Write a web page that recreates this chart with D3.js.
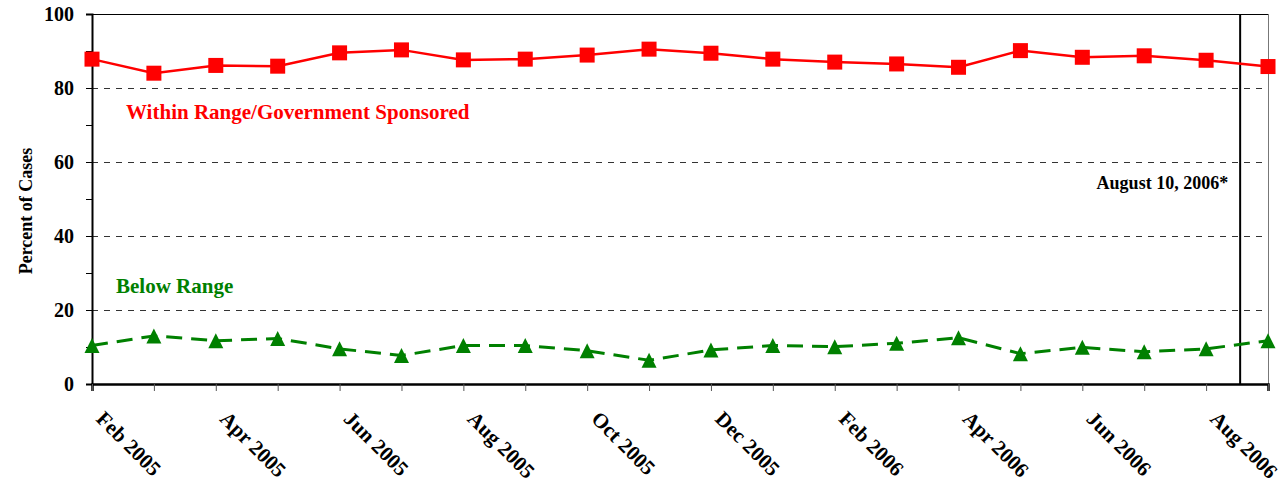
<!DOCTYPE html>
<html>
<head>
<meta charset="utf-8">
<script src="https://cdn.jsdelivr.net/npm/d3@7"></script>
<style>
  html, body { margin: 0; padding: 0; background: #fff; }
  svg { display: block; }
  text { font-family: "Liberation Serif", "Times New Roman", serif; font-weight: bold; }
</style>
</head>
<body>
<svg id="chart" width="1285" height="485"></svg>
<script>
// Monthly reporting periods, Feb 2005 through Sep 2006
const months = [
  "Feb 2005", "Mar 2005", "Apr 2005", "May 2005", "Jun 2005", "Jul 2005",
  "Aug 2005", "Sep 2005", "Oct 2005", "Nov 2005", "Dec 2005", "Jan 2006",
  "Feb 2006", "Mar 2006", "Apr 2006", "May 2006", "Jun 2006", "Jul 2006",
  "Aug 2006", "Sep 2006"
];
// Every other month carries a label
const tickLabels = [
  "Feb 2005", "Apr 2005", "Jun 2005", "Aug 2005", "Oct 2005", "Dec 2005",
  "Feb 2006", "Apr 2006", "Jun 2006", "Aug 2006"
];
// Percent of cases per month
const withinRange = [
  87.8, 84.0, 86.1, 85.9, 89.5, 90.3, 87.6, 87.8, 88.9, 90.5,
  89.4, 87.8, 87.0, 86.5, 85.6, 90.1, 88.3, 88.7, 87.5, 85.8
];
const belowRange = [
  10.4, 13.0, 11.7, 12.3, 9.5, 7.7, 10.4, 10.4, 9.0, 6.4,
  9.2, 10.4, 10.1, 11.0, 12.5, 8.2, 9.9, 8.7, 9.5, 11.7
];
const yTicks = [0, 20, 40, 60, 80, 100];
const yMinorTicks = [10, 30, 50, 70, 90];
const gridValues = [20, 40, 60, 80];
// Reference date marker, in month-index units along the axis
const eventMarker = { label: "August 10, 2006*", month: 18.55 };

const svg = d3.select("#chart");
const plotLeft = 92, plotRight = 1268, plotTop = 14, plotBottom = 384;

const x = d3.scaleLinear().domain([0, months.length - 1]).range([plotLeft, plotRight]);
const y = d3.scaleLinear().domain([0, 100]).range([plotBottom, plotTop]);

// Dashed horizontal gridlines
svg.append("g")
  .selectAll("line")
  .data(gridValues)
  .join("line")
  .attr("x1", plotLeft).attr("x2", plotRight)
  .attr("y1", d => Math.round(y(d)) + 0.5).attr("y2", d => Math.round(y(d)) + 0.5)
  .attr("stroke", "#333")
  .attr("stroke-width", 1)
  .attr("stroke-dasharray", "6,6");

// Plot frame: top and right edges
svg.append("line")
  .attr("x1", plotLeft).attr("x2", plotRight)
  .attr("y1", plotTop + 0.5).attr("y2", plotTop + 0.5)
  .attr("stroke", "#000").attr("stroke-width", 1);
svg.append("line")
  .attr("x1", plotRight + 0.5).attr("x2", plotRight + 0.5)
  .attr("y1", plotTop).attr("y2", plotBottom)
  .attr("stroke", "#777").attr("stroke-width", 1);

// Y axis
const yAxis = svg.append("g")
  .attr("transform", `translate(${plotLeft},0)`)
  .call(d3.axisLeft(y).tickValues(yTicks).tickSize(6).tickPadding(12).tickFormat(d3.format("d")));
yAxis.select(".domain").attr("stroke", "#000").attr("stroke-width", 2);
yAxis.selectAll(".tick line").attr("stroke", "#000").attr("stroke-width", 1);
yAxis.selectAll(".tick text")
  .attr("font-size", 20)
  .attr("font-family", "Liberation Serif, Times New Roman, serif")
  .attr("font-weight", "bold")
  .attr("fill", "#000");

const yMinor = svg.append("g")
  .attr("transform", `translate(${plotLeft},0)`)
  .call(d3.axisLeft(y).tickValues(yMinorTicks).tickSize(6).tickFormat(""));
yMinor.select(".domain").remove();
yMinor.selectAll(".tick line").attr("stroke", "#000");

// X axis: a tick for every month
const xAxis = svg.append("g")
  .attr("transform", `translate(0,${plotBottom})`)
  .call(d3.axisBottom(x).tickValues(d3.range(months.length)).tickSize(7).tickFormat(""));
xAxis.select(".domain").attr("stroke", "#000").attr("stroke-width", 2.5);
xAxis.selectAll(".tick line").attr("stroke", "#555").attr("stroke-width", 1);

// Rotated month labels
svg.append("g")
  .selectAll("text")
  .data(tickLabels)
  .join("text")
  .attr("transform", d => `translate(${x(months.indexOf(d)) + 3},${plotBottom + 36}) rotate(45)`)
  .attr("text-anchor", "start")
  .attr("font-size", 21)
  .attr("fill", "#000")
  .text(d => d);

// Y axis title
svg.append("text")
  .attr("transform", `translate(32,${(plotTop + plotBottom) / 2 + 12}) rotate(-90)`)
  .attr("text-anchor", "middle")
  .attr("font-size", 18)
  .attr("fill", "#000")
  .text("Percent of Cases");

// Event marker
svg.append("line")
  .attr("x1", x(eventMarker.month)).attr("x2", x(eventMarker.month))
  .attr("y1", plotTop).attr("y2", plotBottom)
  .attr("stroke", "#000").attr("stroke-width", 2);
svg.append("text")
  .attr("x", x(eventMarker.month) - 12)
  .attr("y", 189)
  .attr("text-anchor", "end")
  .attr("font-size", 18)
  .attr("fill", "#000")
  .text(eventMarker.label);

const line = d3.line().x((d, i) => x(i)).y(d => y(d));

// Below Range series (green, dashed, triangles)
svg.append("path")
  .datum(belowRange)
  .attr("d", line)
  .attr("fill", "none")
  .attr("stroke", "#008000")
  .attr("stroke-width", 3)
  .attr("stroke-dasharray", "16,9");
const triSize = 15;
svg.append("g")
  .selectAll("path")
  .data(belowRange)
  .join("path")
  .attr("transform", (d, i) => `translate(${x(i)},${y(d)})`)
  .attr("d", `M0,${-triSize / 2}L${triSize / 2},${triSize / 2}L${-triSize / 2},${triSize / 2}Z`)
  .attr("fill", "#008000");

// Within Range series (red, solid, squares)
svg.append("path")
  .datum(withinRange)
  .attr("d", line)
  .attr("fill", "none")
  .attr("stroke", "#ff0000")
  .attr("stroke-width", 2.5);
const sq = 15;
svg.append("g")
  .selectAll("rect")
  .data(withinRange)
  .join("rect")
  .attr("x", (d, i) => x(i) - sq / 2)
  .attr("y", d => y(d) - sq / 2)
  .attr("width", sq).attr("height", sq)
  .attr("fill", "#ff0000");

// Series labels
svg.append("text")
  .attr("x", 126).attr("y", 119)
  .attr("font-size", 21)
  .attr("fill", "#ff0000")
  .text("Within Range/Government Sponsored");
svg.append("text")
  .attr("x", 116).attr("y", 293)
  .attr("font-size", 21)
  .attr("fill", "#008000")
  .text("Below Range");
</script>
</body>
</html>
